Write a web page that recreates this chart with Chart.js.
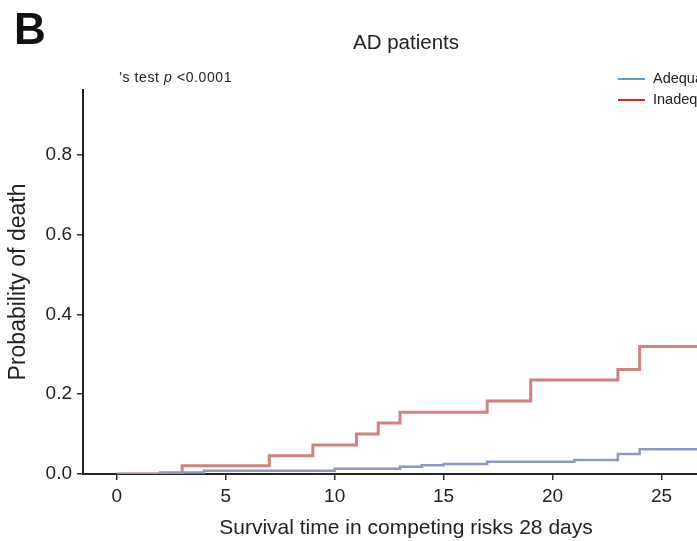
<!DOCTYPE html>
<html>
<head>
<meta charset="utf-8">
<script src="https://cdn.jsdelivr.net/npm/chart.js@4.4.0/dist/chart.umd.min.js"></script>
<style>
  html, body { margin: 0; padding: 0; background: #fff; overflow: hidden; }
  body { width: 697px; height: 541px; position: relative; font-family: "Liberation Sans", Arial, sans-serif; color: #222; }
  #wrap { position: absolute; left: 0; top: 0; width: 812px; height: 541px; }
  .panel { position: absolute; left: 14px; top: 7px; font-size: 44px; line-height: 1; font-weight: bold; color: #111; }
  .title { position: absolute; left: 0; top: 32px; width: 812px; text-align: center; font-size: 20.5px; line-height: 1; }
  .ptext { position: absolute; left: 119px; top: 70px; font-size: 14px; line-height: 1; letter-spacing: 0.6px; white-space: nowrap; }
  .legend { position: absolute; left: 618px; top: 68px; font-size: 14.5px; line-height: 21px; white-space: nowrap; }
  .legend div { display: flex; align-items: center; }
  .legend span.sw { display: inline-block; width: 27px; height: 2px; margin-right: 8px; }
</style>
</head>
<body>
<div id="wrap"><canvas id="chart" width="812" height="541"></canvas></div>
<div class="panel">B</div>
<div class="title">AD patients</div>
<div class="ptext">’s test <i>p</i> &lt;0.0001</div>
<div class="legend">
  <div><span class="sw" style="background:#5b9bd5"></span>Adequate</div>
  <div><span class="sw" style="background:#cc2a2a"></span>Inadequate</div>
</div>
<script>
// cumulative incidence, step times (days) and probability of death
const adequateDays = [0, 2, 4, 10, 13, 14, 15, 17, 21, 23, 24, 28];
const adequateProb = [0, 0.004, 0.008, 0.013, 0.018, 0.022, 0.025, 0.031, 0.035, 0.05, 0.062, 0.062];
const inadequateDays = [0, 3, 7, 9, 11, 12, 13, 17, 19, 23, 24, 28];
const inadequateProb = [0, 0.021, 0.046, 0.073, 0.10, 0.128, 0.155, 0.183, 0.236, 0.262, 0.32, 0.32];
const xTicks = [0, 5, 10, 15, 20, 25];
const yTicks = [0, 0.2, 0.4, 0.6, 0.8];

const toPoints = (xs, ys) => xs.map((x, i) => ({ x: x, y: ys[i] }));

const ctx = document.getElementById('chart').getContext('2d');
new Chart(ctx, {
    type: 'line',
    data: {
        datasets: [{
            label: 'Adequate',
            data: toPoints(adequateDays, adequateProb),
            borderColor: '#8f96cb',
            borderWidth: 2.5,
            pointRadius: 0,
            stepped: 'before',
            fill: false
        }, {
            label: 'Inadequate',
            data: toPoints(inadequateDays, inadequateProb),
            borderColor: '#cf827e',
            borderWidth: 3,
            pointRadius: 0,
            stepped: 'before',
            fill: false
        }]
    },
    options: {
        responsive: false,
        devicePixelRatio: 1,
        animation: false,
        layout: { padding: { left: 0, right: 83, top: 90, bottom: 0 } },
        plugins: {
            legend: { display: false },
            tooltip: { enabled: false }
        },
        scales: {
            x: {
                type: 'linear',
                min: -1.55,
                max: 28.1,
                bounds: 'data',
                afterFit: scale => { scale.height = 67; },
                afterBuildTicks: scale => { scale.ticks = xTicks.map(v => ({ value: v })); },
                ticks: {
                    color: '#222',
                    padding: 5,
                    font: { family: 'Liberation Sans', size: 19 },
                    callback: v => String(v)
                },
                grid: { display: true, drawOnChartArea: false, drawTicks: true, tickLength: 6, color: '#333', lineWidth: 1.5 },
                border: { display: true, color: '#222', width: 2 },
                title: {
                    display: true,
                    text: 'Survival time in competing risks 28 days',
                    color: '#222',
                    font: { family: 'Liberation Sans', size: 21 },
                    padding: { top: 4, bottom: 0 }
                }
            },
            y: {
                type: 'linear',
                min: 0,
                max: 0.963,
                bounds: 'data',
                afterFit: scale => { scale.width = 83; },
                afterBuildTicks: scale => { scale.ticks = yTicks.map(v => ({ value: v })); },
                ticks: {
                    color: '#222',
                    padding: 5,
                    font: { family: 'Liberation Sans', size: 19 },
                    callback: v => v.toFixed(1)
                },
                grid: { display: true, drawOnChartArea: false, drawTicks: true, tickLength: 6, color: '#333', lineWidth: 1.5 },
                border: { display: true, color: '#222', width: 2 },
                title: {
                    display: true,
                    text: 'Probability of death',
                    color: '#222',
                    font: { family: 'Liberation Sans', size: 23 },
                    padding: { top: 5, bottom: 0 }
                }
            }
        }
    }
});
</script>
</body>
</html>
